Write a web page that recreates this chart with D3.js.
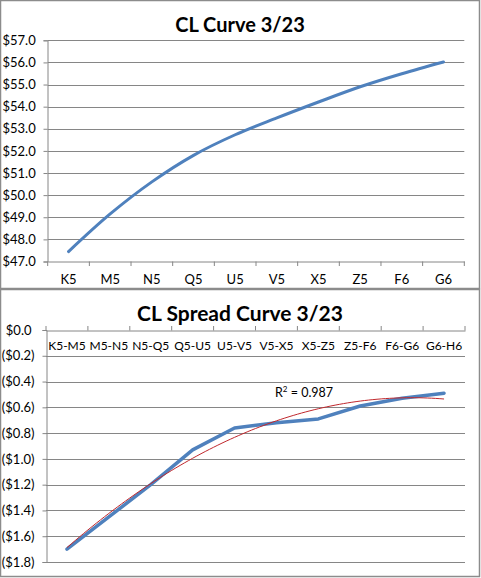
<!DOCTYPE html>
<html>
<head>
<meta charset="utf-8">
<script src="https://cdn.jsdelivr.net/npm/d3@7"></script>
<style>
  body { margin: 0; background: #fff; }
  svg text { font-family: Lato, "Open Sans", sans-serif; fill: #000; }
</style>
</head>
<body>
<svg id="chart" width="481" height="578"></svg>
<script>
// CL futures curve
const contracts = ["K5", "M5", "N5", "Q5", "U5", "V5", "X5", "Z5", "F6", "G6"];
const prices = [47.45, 49.15, 50.6, 51.8, 52.73, 53.49, 54.21, 54.9, 55.49, 56.02];
const priceTicks = [47, 48, 49, 50, 51, 52, 53, 54, 55, 56, 57];

// calendar spreads
const spreadLabels = ["K5-M5", "M5-N5", "N5-Q5", "Q5-U5", "U5-V5", "V5-X5", "X5-Z5", "Z5-F6", "F6-G6", "G6-H6"];
const spreads = [-1.70, -1.45, -1.20, -0.93, -0.76, -0.72, -0.69, -0.59, -0.53, -0.49];
const spreadTicks = [0, -0.2, -0.4, -0.6, -0.8, -1.0, -1.2, -1.4, -1.6, -1.8];
const r2Text = "0.987";

let svg = d3.select("#chart");
let grid_color = "#868686";
let blue = "#4F81BD";

// panel borders
svg.append("rect").attr("x", 0.5).attr("y", 0.5).attr("width", 479).attr("height", 288)
   .attr("fill", "none").attr("stroke", "#8c8c8c").attr("stroke-width", 1.5);
svg.append("rect").attr("x", 0.5).attr("y", 289.5).attr("width", 479).attr("height", 287)
   .attr("fill", "none").attr("stroke", "#8c8c8c").attr("stroke-width", 1.5);

function draw_curve(){
  let x = d3.scaleBand().domain(contracts).range([47.7, 464.3]);
  let y = d3.scaleLinear().domain([47, 57]).range([261.5, 40.3]);
  let g = svg.append("g");

  g.append("text")
   .attr("x", 240).attr("y", 32)
   .attr("text-anchor", "middle")
   .attr("font-size", 20).attr("font-weight", "bold")
   .text("CL Curve 3/23");

  // gridlines
  g.append("g").selectAll("line").data(priceTicks.slice(1)).join("line")
   .attr("x1", 47.7).attr("x2", 464.3)
   .attr("y1", d => Math.round(y(d)) + 0.5).attr("y2", d => Math.round(y(d)) + 0.5)
   .attr("stroke", grid_color);

  let yAxis = g.append("g").attr("transform", "translate(47.5,0)")
               .call(d3.axisLeft(y).tickValues(priceTicks).tickSize(4).tickPadding(14)
                     .tickFormat(d => "$" + d.toFixed(1)));
  let xAxis = g.append("g").attr("transform", "translate(0," + 261.5 + ")")
               .call(d3.axisBottom(x).tickSize(0).tickPadding(13));
  // category tick marks on the band edges
  g.append("g").selectAll("line").data(contracts.concat(["end"])).join("line")
   .attr("x1", (d, i) => 47.7 + i * x.bandwidth()).attr("x2", (d, i) => 47.7 + i * x.bandwidth())
   .attr("y1", 261.5).attr("y2", 266)
   .attr("stroke", grid_color);

  [yAxis, xAxis].forEach(a => {
    a.select(".domain").attr("stroke", grid_color);
    a.selectAll(".tick line").attr("stroke", grid_color);
    a.selectAll("text").attr("font-size", 13).attr("font-family", "Lato, sans-serif");
  });
  yAxis.selectAll("text").attr("text-anchor", "start").attr("x", -45);

  let line = d3.line()
               .x((d, i) => x(contracts[i]) + x.bandwidth() / 2)
               .y(d => y(d))
               .curve(d3.curveCatmullRom.alpha(0.5));
  g.append("path").datum(prices)
   .attr("d", line)
   .attr("fill", "none").attr("stroke", blue).attr("stroke-width", 3)
   .attr("stroke-linecap", "round");
}

function draw_spreads(){
  let x = d3.scaleBand().domain(spreadLabels).range([46, 465]);
  let y = d3.scaleLinear().domain([-1.8, 0]).range([562, 330]);
  let g = svg.append("g");

  g.append("text")
   .attr("x", 240).attr("y", 321)
   .attr("text-anchor", "middle")
   .attr("font-size", 21).attr("font-weight", "bold")
   .text("CL Spread Curve 3/23");

  g.append("g").selectAll("line").data(spreadTicks.slice(1)).join("line")
   .attr("x1", 46).attr("x2", 465)
   .attr("y1", d => Math.round(y(d)) + 0.5).attr("y2", d => Math.round(y(d)) + 0.5)
   .attr("stroke", grid_color);

  let yAxis = g.append("g").attr("transform", "translate(46.5,0)")
               .call(d3.axisLeft(y).tickValues(spreadTicks).tickSize(4).tickPadding(8)
                     .tickFormat(d => d < 0 ? "($" + Math.abs(d).toFixed(1) + ")" : "$" + Math.abs(d).toFixed(1)));
  let xAxis = g.append("g").attr("transform", "translate(0," + 330.5 + ")")
               .call(d3.axisBottom(x).tickSize(0).tickPadding(11));
  g.append("g").selectAll("line").data(spreadLabels.concat(["end"])).join("line")
   .attr("x1", (d, i) => 46 + i * x.bandwidth()).attr("x2", (d, i) => 46 + i * x.bandwidth())
   .attr("y1", 330.5).attr("y2", 326)
   .attr("stroke", grid_color);

  [yAxis, xAxis].forEach(a => {
    a.select(".domain").attr("stroke", grid_color);
    a.selectAll(".tick line").attr("stroke", grid_color);
    a.selectAll("text").attr("font-size", 13).attr("font-family", "Lato, sans-serif");
  });
  xAxis.selectAll("text").attr("font-size", 12);
  yAxis.selectAll("text").filter(d => d >= 0).attr("dx", -3);

  let cx = (d, i) => x(spreadLabels[i]) + x.bandwidth() / 2;

  // quadratic trendline (least squares on category index)
  let n = spreads.length;
  let sx = [0, 0, 0, 0, 0], sxy = [0, 0, 0];
  spreads.forEach((v, i) => {
    let t = i + 1;
    for (let k = 0; k < 5; k++) sx[k] += Math.pow(t, k);
    for (let k = 0; k < 3; k++) sxy[k] += v * Math.pow(t, k);
  });
  let A = [[sx[0], sx[1], sx[2], sxy[0]],
           [sx[1], sx[2], sx[3], sxy[1]],
           [sx[2], sx[3], sx[4], sxy[2]]];
  for (let c = 0; c < 3; c++) {
    for (let r = c + 1; r < 3; r++) {
      let f = A[r][c] / A[c][c];
      for (let k = c; k < 4; k++) A[r][k] -= f * A[c][k];
    }
  }
  let coef = [0, 0, 0];
  for (let r = 2; r >= 0; r--) {
    let s = A[r][3];
    for (let k = r + 1; k < 3; k++) s -= A[r][k] * coef[k];
    coef[r] = s / A[r][r];
  }
  let trend = d3.range(1, n + 0.001, 0.1).map(t => [t, coef[0] + coef[1] * t + coef[2] * t * t]);
  let tx = d3.scaleLinear().domain([1, n]).range([cx(null, 0), cx(null, n - 1)]);

  g.append("path").datum(spreads)
   .attr("d", d3.line().x(cx).y(d => y(d)))
   .attr("fill", "none").attr("stroke", blue).attr("stroke-width", 3.5)
   .attr("stroke-linejoin", "round").attr("stroke-linecap", "round");

  g.append("path").datum(trend)
   .attr("d", d3.line().x(d => tx(d[0])).y(d => y(d[1])))
   .attr("fill", "none").attr("stroke", "#C0282D").attr("stroke-width", 1);

  let r2 = g.append("text").attr("x", 275).attr("y", 397).attr("font-size", 12.5);
  r2.append("tspan").text("R");
  r2.append("tspan").attr("font-size", 8).attr("dy", -5).text("2");
  r2.append("tspan").attr("dy", 5).text(" = " + r2Text);
}

draw_curve();
draw_spreads();
</script>
</body>
</html>
